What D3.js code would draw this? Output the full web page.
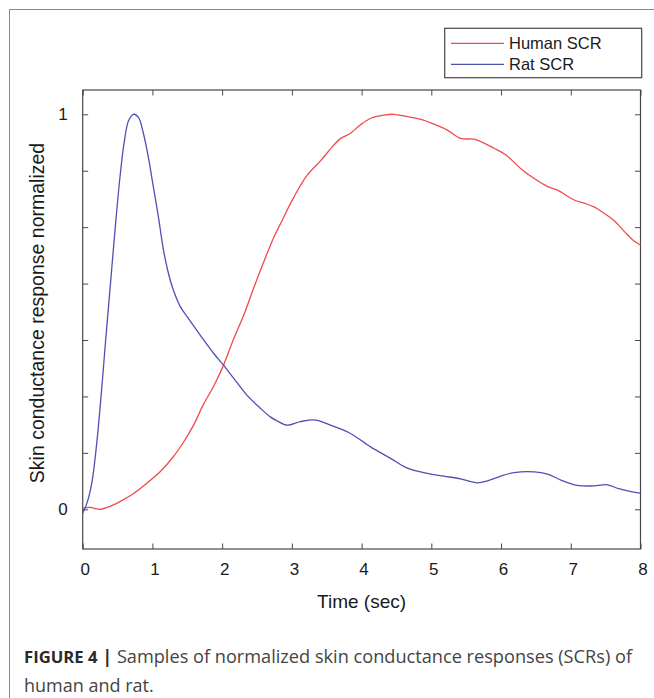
<!DOCTYPE html>
<html>
<head>
<meta charset="utf-8">
<script src="https://cdn.jsdelivr.net/npm/d3@7"></script>
<style>
  html, body { margin: 0; padding: 0; background: #fff; }
  svg { display: block; }
  text { font-family: "Liberation Sans", Arial, sans-serif; }
</style>
</head>
<body>
<svg id="chart" width="654" height="698"></svg>
<script>
// ---- data ----
const humanTime = [0, 0.1, 0.25, 0.4, 0.58, 0.73, 0.92, 1.11, 1.3, 1.45, 1.59, 1.73, 1.88, 2.02, 2.16, 2.31, 2.45, 2.6, 2.74, 2.84, 3.03, 3.22, 3.41, 3.6, 3.7, 3.84, 3.98, 4.13, 4.32, 4.46, 4.66, 4.85, 5.04, 5.23, 5.42, 5.61, 5.71, 5.9, 6.07, 6.28, 6.47, 6.67, 6.81, 7.05, 7.19, 7.34, 7.48, 7.62, 7.77, 7.89, 8.0];
const humanValue = [0.003, 0.005, 0.0, 0.008, 0.024, 0.04, 0.066, 0.095, 0.133, 0.171, 0.213, 0.265, 0.312, 0.365, 0.429, 0.492, 0.559, 0.628, 0.688, 0.724, 0.791, 0.846, 0.882, 0.922, 0.939, 0.952, 0.973, 0.99, 0.998, 1.0, 0.994, 0.987, 0.975, 0.96, 0.939, 0.937, 0.931, 0.914, 0.897, 0.863, 0.838, 0.817, 0.808, 0.783, 0.775, 0.765, 0.749, 0.731, 0.703, 0.682, 0.669];

const ratTime = [0, 0.06, 0.13, 0.2, 0.27, 0.33, 0.4, 0.47, 0.54, 0.6, 0.66, 0.73, 0.8, 0.87, 0.94, 1.01, 1.09, 1.16, 1.23, 1.3, 1.4, 1.5, 1.685, 1.877, 2.02, 2.164, 2.355, 2.547, 2.69, 2.787, 2.931, 3.122, 3.338, 3.553, 3.84, 4.128, 4.415, 4.655, 4.943, 5.181, 5.421, 5.661, 5.805, 5.996, 6.187, 6.474, 6.667, 6.858, 7.049, 7.289, 7.529, 7.672, 7.864, 8.0];
const ratValue = [-0.01, 0.015, 0.066, 0.165, 0.3, 0.43, 0.575, 0.72, 0.85, 0.935, 0.985, 1.0, 0.992, 0.952, 0.893, 0.82, 0.735, 0.655, 0.597, 0.555, 0.513, 0.487, 0.441, 0.395, 0.365, 0.332, 0.289, 0.256, 0.234, 0.224, 0.213, 0.222, 0.226, 0.213, 0.192, 0.158, 0.129, 0.104, 0.091, 0.084, 0.077, 0.067, 0.072, 0.084, 0.093, 0.095, 0.089, 0.074, 0.062, 0.059, 0.062, 0.053, 0.045, 0.041];

const seriesNames = ["Human SCR", "Rat SCR"];
const xTickValues = [0, 1, 2, 3, 4, 5, 6, 7, 8];
const yTickValues = [0, 1/7, 2/7, 3/7, 4/7, 5/7, 6/7, 1];
const yTickLabels = ["0", "", "", "", "", "", "", "1"];
const xDomain = [0, 8];
const yDomain = [-0.1005, 1.0615];
const xLabel = "Time (sec)";
const yLabel = "Skin conductance response normalized";
const captionBold = "FIGURE 4";
const captionLine1 = "Samples of normalized skin conductance responses (SCRs) of";
const captionLine2 = "human and rat.";

// ---- layout ----
const W = 654, H = 698;
const pL = 82.7, pR = 640.5, pT = 90, pB = 549;
const colors = ["#f04b4b", "#5050b4"];
const axisColor = "#474747";
const textColor = "#1a1a1a";

const svg = d3.select("#chart");

// outer frame
svg.append("rect")
  .attr("x", 9.5).attr("y", 9.5)
  .attr("width", W + 20).attr("height", H + 20)
  .attr("fill", "none").attr("stroke", "#8a8a8a").attr("stroke-width", 1);

const x = d3.scaleLinear().domain(xDomain).range([pL, pR]);
const y = d3.scaleLinear().domain(yDomain).range([pB, pT]);

const tickLen = 5.5;

// axes (all four sides, ticks inward)
const gBottom = svg.append("g").attr("transform", `translate(0,${pB})`)
  .call(d3.axisBottom(x).tickValues(xTickValues).tickSizeInner(-tickLen).tickSizeOuter(0).tickPadding(14).tickFormat(d3.format("d")));
const gTop = svg.append("g").attr("transform", `translate(0,${pT})`)
  .call(d3.axisTop(x).tickValues(xTickValues).tickSizeInner(-tickLen).tickSizeOuter(0).tickFormat(""));
const gLeft = svg.append("g").attr("transform", `translate(${pL},0)`)
  .call(d3.axisLeft(y).tickValues(yTickValues).tickSizeInner(-tickLen).tickSizeOuter(0).tickPadding(15)
    .tickFormat((d, i) => yTickLabels[i]));
const gRight = svg.append("g").attr("transform", `translate(${pR},0)`)
  .call(d3.axisRight(y).tickValues(yTickValues).tickSizeInner(-tickLen).tickSizeOuter(0).tickFormat(""));

[gBottom, gTop, gLeft, gRight].forEach(g => {
  g.select(".domain").remove();
  g.selectAll(".tick line").attr("stroke", axisColor).attr("stroke-width", 1);
  g.selectAll(".tick text").attr("fill", textColor).style("font-size", "17px")
    .style("font-family", '"Liberation Sans", Arial, sans-serif');
});
gBottom.selectAll(".tick text").attr("dy", "0.71em").attr("dx", "2");

// axis box
svg.append("rect")
  .attr("x", pL).attr("y", pT)
  .attr("width", pR - pL).attr("height", pB - pT)
  .attr("fill", "none").attr("stroke", axisColor).attr("stroke-width", 1.2);

// lines
const line = d3.line().x(d => x(d[0])).y(d => y(d[1])).curve(d3.curveCatmullRom.alpha(0.5));
const humanData = humanTime.map((t, i) => [t, humanValue[i]]);
const ratData = ratTime.map((t, i) => [t, ratValue[i]]);

svg.append("path").datum(humanData).attr("d", line)
  .attr("fill", "none").attr("stroke", colors[0]).attr("stroke-width", 1.3);
svg.append("path").datum(ratData).attr("d", line)
  .attr("fill", "none").attr("stroke", colors[1]).attr("stroke-width", 1.3);

// axis labels
svg.append("text")
  .attr("x", x(4)).attr("y", 601)
  .attr("text-anchor", "middle").attr("dominant-baseline", "central")
  .attr("fill", textColor).style("font-size", "19px")
  .text(xLabel);

svg.append("text")
  .attr("transform", `translate(37,${313}) rotate(-90)`)
  .attr("text-anchor", "middle").attr("dominant-baseline", "central")
  .attr("fill", textColor).style("font-size", "19.5px")
  .text(yLabel);

// legend
const lg = svg.append("g");
lg.append("rect")
  .attr("x", 444.7).attr("y", 28.3).attr("width", 197).attr("height", 49.4)
  .attr("fill", "#fff").attr("stroke", axisColor).attr("stroke-width", 1.2);
seriesNames.forEach((name, i) => {
  const yy = 43.3 + i * 21;
  lg.append("line").attr("x1", 451).attr("x2", 504).attr("y1", yy).attr("y2", yy)
    .attr("stroke", colors[i]).attr("stroke-width", 1.3);
  lg.append("text").attr("x", 509).attr("y", yy)
    .attr("dominant-baseline", "central").attr("fill", textColor)
    .style("font-size", "16.5px").text(name);
});

// caption
const capFont = '"Open Sans", "Liberation Sans", sans-serif';
const cap = svg.append("text").attr("x", 24).attr("y", 663)
  .attr("fill", "#444").style("font-size", "18px")
  .style("font-family", capFont)
  .attr("textLength", 608).attr("lengthAdjust", "spacingAndGlyphs");
cap.append("tspan").attr("font-weight", "bold").attr("fill", "#2a2a2a")
  .style("font-size", "16.5px").text(captionBold);
cap.append("tspan").attr("font-weight", "bold").attr("fill", "#2a2a2a").text(" | ");
cap.append("tspan").text(captionLine1);

svg.append("text").attr("x", 24).attr("y", 692)
  .attr("fill", "#444").style("font-size", "18px")
  .style("font-family", capFont)
  .text(captionLine2);
</script>
</body>
</html>
